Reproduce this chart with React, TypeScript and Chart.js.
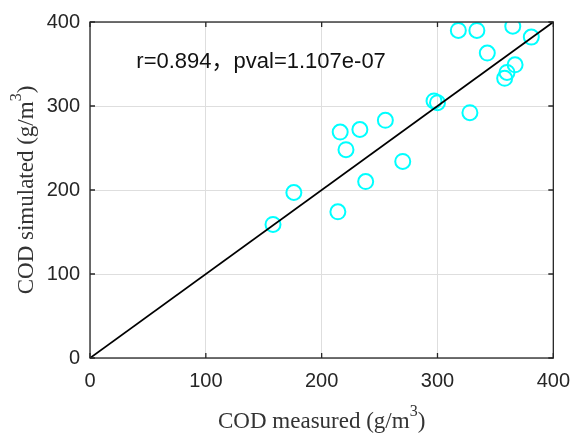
import { useEffect, useRef } from 'react';
import { Chart, registerables } from 'chart.js';

Chart.register(...registerables);

// COD measured (x) and simulated (y), g/m^3
const measured = [158, 214, 176, 238, 270, 221, 216, 233, 255, 328, 297, 300, 358, 360, 367, 343, 381, 318, 334, 365];
const simulated = [159, 174, 197, 210, 234, 248, 269, 272, 283, 292, 306, 304, 333, 340, 349, 363, 382, 390, 390, 395];
const axisTicks = [0, 100, 200, 300, 400];
const lineEnds = [0, 400];
const annotationText = 'r=0.894\uFF0Cpval=1.107e-07';
const annotationAt = { x: 40, y: 345 };
const xTitle = ['COD measured (g/m', '3', ')'];
const yTitle = ['COD simulated (g/m', '3', ')'];

const SANS = '"Liberation Sans", Arial, "Noto Sans CJK SC", sans-serif';
const SERIF = '"Liberation Serif", "Times New Roman", serif';

function drawTitle(ctx: CanvasRenderingContext2D, parts: string[], cx: number, cy: number, rotate: boolean) {
  ctx.save();
  ctx.translate(cx, cy);
  if (rotate) ctx.rotate(-Math.PI / 2);
  const mainFont = `23px ${SERIF}`;
  const supFont = `16px ${SERIF}`;
  ctx.font = mainFont;
  const w1 = ctx.measureText(parts[0]).width;
  const w3 = ctx.measureText(parts[2]).width;
  ctx.font = supFont;
  const w2 = ctx.measureText(parts[1]).width;
  const total = w1 + w2 + w3;
  let x = -total / 2;
  ctx.fillStyle = '#333333';
  ctx.textBaseline = 'alphabetic';
  ctx.textAlign = 'left';
  ctx.font = mainFont;
  ctx.fillText(parts[0], x, 0);
  x += w1;
  ctx.font = supFont;
  ctx.fillText(parts[1], x, -12);
  x += w2;
  ctx.font = mainFont;
  ctx.fillText(parts[2], x, 0);
  ctx.restore();
}

const framePlugin = {
  id: 'matlabFrame',
  afterDraw(chart: any) {
    const { ctx, chartArea } = chart;
    const { left, right, top, bottom } = chartArea;
    const xs = chart.scales.x;
    const ys = chart.scales.y;
    ctx.save();
    ctx.strokeStyle = '#262626';
    ctx.lineWidth = 1.3;
    ctx.strokeRect(left, top, right - left, bottom - top);
    const tl = 5;
    ctx.beginPath();
    for (const v of axisTicks) {
      const px = xs.getPixelForValue(v);
      ctx.moveTo(px, bottom);
      ctx.lineTo(px, bottom - tl);
      ctx.moveTo(px, top);
      ctx.lineTo(px, top + tl);
      const py = ys.getPixelForValue(v);
      ctx.moveTo(left, py);
      ctx.lineTo(left + tl, py);
      ctx.moveTo(right, py);
      ctx.lineTo(right - tl, py);
    }
    ctx.stroke();

    ctx.fillStyle = '#111111';
    ctx.font = `22px ${SANS}`;
    ctx.textAlign = 'left';
    ctx.textBaseline = 'alphabetic';
    ctx.fillText(annotationText, xs.getPixelForValue(annotationAt.x), ys.getPixelForValue(annotationAt.y));
    ctx.restore();

    drawTitle(ctx, xTitle, (left + right) / 2, 428, false);
    drawTitle(ctx, yTitle, 33, (top + bottom) / 2, true);
  },
};

export default function App() {
  const ref = useRef<HTMLCanvasElement | null>(null);
  useEffect(() => {
    if (!ref.current) return;
    const tickFont = { family: SANS, size: 20 };
    const chart = new Chart(ref.current, {
      type: 'scatter',
      data: {
        datasets: [
          {
            type: 'line',
            data: lineEnds.map((v) => ({ x: v, y: v })),
            borderColor: '#000000',
            borderWidth: 1.8,
            pointRadius: 0,
            fill: false,
            order: 0,
          },
          {
            type: 'scatter',
            data: measured.map((m, i) => ({ x: m, y: simulated[i] })),
            pointRadius: 7.5,
            pointHoverRadius: 7.5,
            borderWidth: 2,
            pointBorderWidth: 2,
            borderColor: '#00FFFF',
            backgroundColor: 'rgba(0,0,0,0)',
            order: 1,
          },
        ],
      } as any,
      options: {
        responsive: false,
        animation: false,
        layout: { padding: { top: 17, right: 27, left: 0, bottom: 0 } },
        plugins: { legend: { display: false }, tooltip: { enabled: false } },
        events: [],
        scales: {
          x: {
            type: 'linear',
            min: 0,
            max: 400,
            afterFit: (s: any) => { s.height = 75; },
            afterBuildTicks: (s: any) => { s.ticks = axisTicks.map((v) => ({ value: v })); },
            grid: { color: '#dedede', lineWidth: 1, drawTicks: false },
            border: { display: false },
            ticks: { font: tickFont, color: '#262626', padding: 11, maxRotation: 0 },
          },
          y: {
            type: 'linear',
            min: 0,
            max: 400,
            afterFit: (s: any) => { s.width = 90; },
            afterBuildTicks: (s: any) => { s.ticks = axisTicks.map((v) => ({ value: v })); },
            grid: { color: '#dedede', lineWidth: 1, drawTicks: false },
            border: { display: false },
            ticks: { font: tickFont, color: '#262626', padding: 10 },
          },
        },
      } as any,
      plugins: [framePlugin],
    });
    return () => chart.destroy();
  }, []);
  return (
    <div style={{ position: 'fixed', left: 0, top: 0, width: 581, height: 433, background: '#ffffff' }}>
      <canvas ref={ref} width={581} height={433} style={{ display: 'block', width: 581, height: 433 }} />
    </div>
  );
}
